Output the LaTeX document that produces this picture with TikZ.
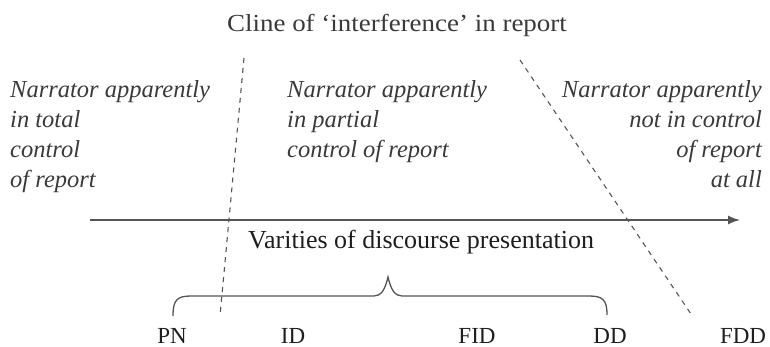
\documentclass[tikz,border=0pt]{standalone}
\usepackage{fontspec}
\setmainfont{Liberation Serif}
\newfontfamily\titlefont[FakeStretch=1.1]{Liberation Serif}
\usetikzlibrary{arrows.meta}
\definecolor{txt}{HTML}{3A3A3A}
\definecolor{dark}{HTML}{1E1E1E}
\definecolor{ln}{HTML}{555555}
\tikzset{
  italblock/.style={font=\itshape\fontsize{24.5}{30}\selectfont, text=txt, inner sep=0pt},
  lbl/.style={font=\fontsize{23}{26}\selectfont, text=dark, inner sep=0pt, anchor=base},
  divider/.style={draw=ln, line width=1.1pt, dash pattern=on 5pt off 5pt},
}
\begin{document}
\begin{tikzpicture}[x=1pt,y=-1pt]
\useasboundingbox (0,0) rectangle (770,347);
\node[font=\titlefont\fontsize{24.5}{28}\selectfont, text=txt, inner sep=0pt, anchor=base] (title) at (397,32) {Cline of ‘interference’ in report};
\node[italblock, align=left, anchor=north west] (left) at (10,80.5) {Narrator apparently\\in total\\control\\of report};
\node[italblock, align=left, anchor=north west] (mid) at (287,80.5) {Narrator apparently\\in partial\\control of report};
\node[italblock, align=right, anchor=north east] (right) at (762,80.5) {Narrator apparently\\not in control\\of report\\at all};
\coordinate (d1a) at (244,58);
\coordinate (d1b) at (220,316);
\coordinate (d2a) at (520,60);
\coordinate (d2b) at (693,317);
\draw[divider] (d1a) -- (d1b);
\draw[divider] (d2a) -- (d2b);
\coordinate (axs) at (90,220);
\coordinate (axe) at (740,220);
\draw[ln, line width=1.4pt, -{Latex[length=12pt,width=9pt]}] (axs) -- (axe);
\node[lbl, font=\fontsize{26}{30}\selectfont, anchor=base west] (var) at (248,248) {Varities of discourse presentation};
\coordinate (bl) at (173,316);
\coordinate (bm) at (388,277);
\coordinate (br) at (607,315);
\draw[ln, line width=1.3pt] (bl) .. controls (173,300) and (177,296) .. (191,296) -- (374,296) .. controls (381,296) and (385,290) .. (bm) .. controls (391,290) and (395,296) .. (402,296) -- (589,296) .. controls (603,296) and (607,300) .. (br);
\node[lbl] (pn) at (172,343) {PN};
\node[lbl] (id) at (293,343) {ID};
\node[lbl] (fid) at (477,343) {FID};
\node[lbl] (dd) at (610,343) {DD};
\node[lbl] (fdd) at (743,343) {FDD};
\end{tikzpicture}
\end{document}
